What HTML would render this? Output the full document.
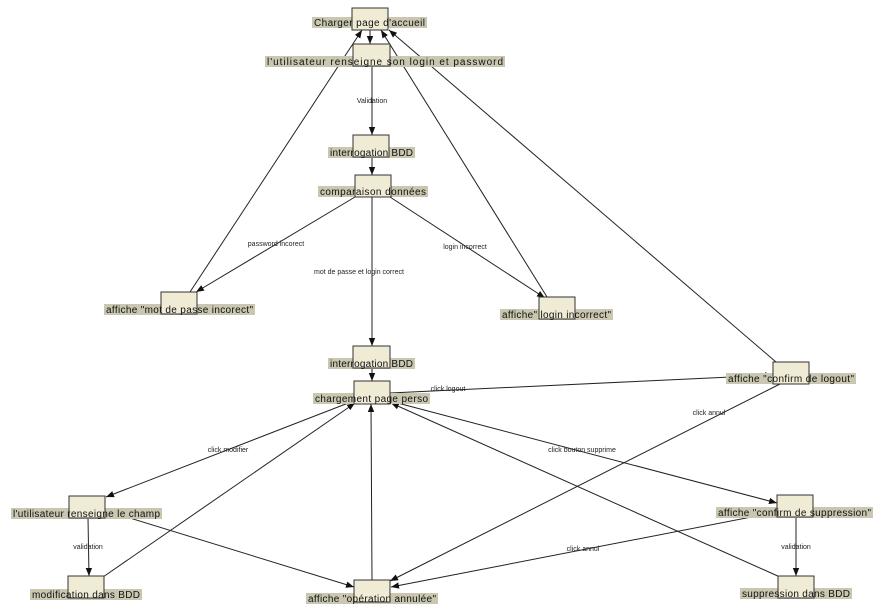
<!DOCTYPE html>
<html><head><meta charset="utf-8"><style>
html,body{margin:0;padding:0;background:#fff;width:884px;height:611px;overflow:hidden}
svg text{font-family:"Liberation Sans",sans-serif}
.lb{font-size:10px;fill:#111}
.el{font-size:7px;fill:#222}
</style></head><body>
<svg width="884" height="611" viewBox="0 0 884 611" xmlns="http://www.w3.org/2000/svg">
<defs><marker id="a" viewBox="0 0 10 10" refX="10" refY="5" markerWidth="8" markerHeight="8" orient="auto"><path d="M0,1 L10,5 L0,9 z" fill="#111"/></marker></defs>
<g stroke="#222" stroke-width="1" fill="none" marker-end="url(#a)">
<line x1="370" y1="30" x2="370" y2="44"/>
<line x1="372" y1="66" x2="372" y2="135"/>
<line x1="372" y1="157" x2="372" y2="175"/>
<line x1="355" y1="197" x2="196" y2="292"/>
<line x1="372" y1="197" x2="372" y2="346"/>
<line x1="390" y1="197" x2="545" y2="298"/>
<line x1="190" y1="292" x2="362" y2="30"/>
<line x1="547" y1="297" x2="381" y2="30"/>
<line x1="776" y1="362" x2="389" y2="30"/>
<line x1="372" y1="368" x2="372" y2="381"/>
<line x1="390" y1="393" x2="773" y2="375"/>
<line x1="780" y1="384" x2="390" y2="581"/>
<line x1="356" y1="400" x2="106" y2="497"/>
<line x1="390" y1="401" x2="777" y2="503"/>
<line x1="88" y1="518" x2="89" y2="576"/>
<line x1="103" y1="577" x2="355" y2="403"/>
<line x1="120" y1="515" x2="354" y2="587"/>
<line x1="372" y1="580" x2="371" y2="404"/>
<line x1="777" y1="512" x2="391" y2="587"/>
<line x1="796" y1="517" x2="796" y2="576"/>
<line x1="780" y1="577" x2="391" y2="403"/>
</g>
<g class="el" text-anchor="middle">
<text x="372" y="103">Validation</text>
<text x="276" y="246">password incorect</text>
<text x="359" y="274">mot de passe et login correct</text>
<text x="465" y="249">login incorrect</text>
<text x="448" y="391">click logout</text>
<text x="709" y="415">click annul</text>
<text x="228" y="452">click modifier</text>
<text x="582" y="452">click bouton supprime</text>
<text x="88" y="549">validation</text>
<text x="796" y="549">validation</text>
<text x="583" y="551">click annul</text>
</g>
<g fill="#c9c7b0">
<rect x="312" y="17" width="115" height="11"/>
<rect x="265" y="56" width="240" height="11"/>
<rect x="328" y="147" width="87" height="11"/>
<rect x="318" y="186" width="110" height="11"/>
<rect x="104" y="304" width="151" height="11"/>
<rect x="500" y="309" width="113" height="11"/>
<rect x="328" y="358" width="87" height="11"/>
<rect x="313" y="393" width="117" height="11"/>
<rect x="726" y="373" width="130" height="11"/>
<rect x="11" y="508" width="151" height="11"/>
<rect x="716" y="507" width="157" height="11"/>
<rect x="30" y="589" width="112" height="11"/>
<rect x="306" y="593" width="132" height="11"/>
<rect x="740" y="588" width="112" height="11"/>
</g>
<g fill="#efebd5" stroke="#333" stroke-width="1">
<rect x="352" y="8" width="36" height="22"/>
<rect x="353" y="44" width="37" height="22"/>
<rect x="353" y="135" width="36" height="22"/>
<rect x="355" y="175" width="36" height="22"/>
<rect x="161" y="292" width="36" height="22"/>
<rect x="539" y="297" width="36" height="22"/>
<rect x="353" y="346" width="37" height="22"/>
<rect x="354" y="381" width="36" height="23"/>
<rect x="773" y="362" width="36" height="22"/>
<rect x="69" y="496" width="36" height="22"/>
<rect x="777" y="495" width="36" height="22"/>
<rect x="68" y="576" width="36" height="22"/>
<rect x="354" y="580" width="36" height="22"/>
<rect x="778" y="576" width="36" height="22"/>
</g>
<g class="lb" text-anchor="middle" lengthAdjust="spacingAndGlyphs">
<text x="369.5" y="26" textLength="111">Charger page d'accueil</text>
<text x="385" y="65" textLength="236">l'utilisateur renseigne son login et password</text>
<text x="371.5" y="156" textLength="83">interrogation BDD</text>
<text x="373" y="195" textLength="106">comparaison données</text>
<text x="179.5" y="313" textLength="147">affiche "mot de passe incorect"</text>
<text x="556.5" y="318" textLength="109">affiche" login incorrect"</text>
<text x="371.5" y="367" textLength="83">interrogation BDD</text>
<text x="371.5" y="402" textLength="113">chargement page perso</text>
<text x="791" y="382" textLength="126">affiche "confirm de logout"</text>
<text x="86.5" y="517" textLength="147">l'utilisateur renseigne le champ</text>
<text x="794.5" y="516" textLength="153">affiche "confirm de suppression"</text>
<text x="86" y="598" textLength="108">modification dans BDD</text>
<text x="372" y="602" textLength="128">affiche "opération annulée"</text>
<text x="796" y="597" textLength="108">suppression dans BDD</text>
</g>
</svg>
</body></html>
